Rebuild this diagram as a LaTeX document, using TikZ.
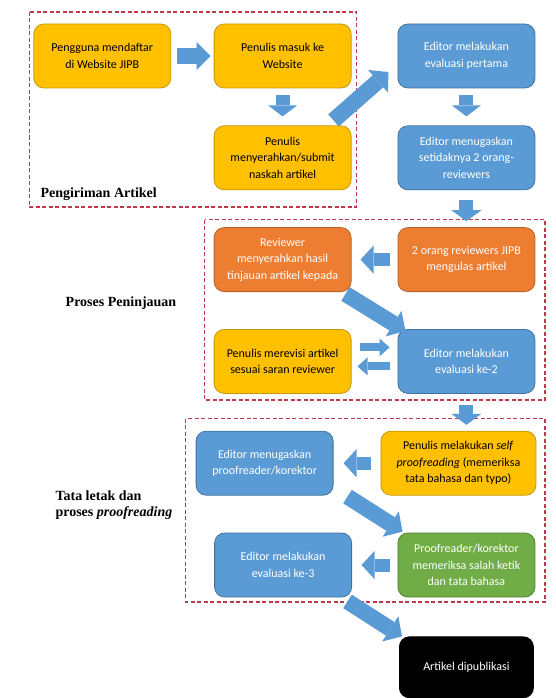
\documentclass[tikz,border=0pt]{standalone}
\usepackage{fontspec}
\setmainfont{Carlito}
\newfontfamily\lblfont{Liberation Serif}
\usetikzlibrary{positioning}
\usetikzlibrary{arrows.meta}
\definecolor{kuning}{HTML}{FFC000}
\definecolor{kuningtua}{HTML}{C9980A}
\definecolor{biru}{HTML}{5B9BD5}
\definecolor{birutua}{HTML}{41719C}
\definecolor{oranye}{HTML}{ED7D31}
\definecolor{oranyetua}{HTML}{B8612A}
\definecolor{hijau}{HTML}{70AD47}
\definecolor{hijautua}{HTML}{507E32}
\definecolor{merah}{HTML}{C0394B}
\tikzset{
    kotak/.style={rectangle, rounded corners=10pt, minimum width=137pt,
                  minimum height=64pt, align=center, inner sep=2pt,
                  line width=0.8pt, font=\fontsize{12}{16.5}\selectfont},
    ybox/.style={kotak, fill=kuning, draw=kuningtua, text=black},
    bbox/.style={kotak, fill=biru, draw=birutua, text=white},
    obox/.style={kotak, fill=oranye, draw=oranyetua, text=white},
    gbox/.style={kotak, fill=hijau, draw=hijautua, text=white},
    kbox/.style={kotak, fill=black, draw=black, text=white},
    grup/.style={draw=merah, dash pattern=on 4pt off 2.5pt, line width=1.2pt},
    stage/.style={font=\lblfont\fontsize{14}{16.5}\selectfont\bfseries, align=left},
    blok/.style n args={3}{draw=biru, line width=#1,
                  -{Triangle[width=#2,length=#3,line width=0pt]}},
    }

\begin{document}
\begin{tikzpicture}[x=1pt,y=-1pt,node distance=37pt]
    \fill[white] (0,0) rectangle (555,698);
    \useasboundingbox (0,0) rectangle (555,698);

    % pengiriman
    \node[ybox] (daftar) at (102.3,56) {Pengguna mendaftar\\di Website JIPB};
    \node[ybox] (masuk) [right=42.5pt of daftar] {Penulis masuk ke\\Website};
    \node[ybox] (submit) [below=of masuk] {Penulis\\menyerahkan/submit\\naskah artikel};
    \node[bbox] (eval1) [right=46pt of masuk] {Editor melakukan\\evaluasi pertama};
    \node[bbox] (tugas) [below=of eval1] {Editor menugaskan\\setidaknya 2 orang-\\reviewers};

    % peninjauan
    \node[obox] (ulas) [below=of tugas] {2 orang reviewers JIPB\\mengulas artikel};
    \node[obox] (tinjau) [left=46pt of ulas] {Reviewer\\menyerahkan hasil\\tinjauan artikel kepada};
    \node[bbox] (eval2) [below=of ulas] {Editor melakukan\\evaluasi ke-2};
    \node[ybox] (revisi) [left=46pt of eval2] {Penulis merevisi artikel\\sesuai saran reviewer};

    % proofreading
    \node[ybox, minimum width=155pt, xshift=-8pt] (self) [below=of eval2]
        {Penulis melakukan \textit{self}\\\textit{proofreading} (memeriksa\\tata bahasa dan typo)};
    \node[bbox] (tugaspr) [left=47pt of self] {Editor menugaskan\\proofreader/korektor};
    \node[gbox, xshift=8pt] (korektor) [below=of self] {Proofreader/korektor\\memeriksa salah ketik\\dan tata bahasa};
    \node[bbox] (eval3) [left=45.5pt of korektor] {Editor melakukan\\evaluasi ke-3};
    \node[kbox, minimum width=134pt, minimum height=61pt] (terbit) [below=39pt of korektor] {Artikel dipublikasi};

    % kelompok
    \draw[grup] (29.4,12) rectangle (356.8,207);
    \draw[grup] (204.6,219.5) rectangle (545,400);
    \draw[grup] (185.8,418.5) rectangle (545,602);
    \node[stage, anchor=west] (lbl1) at (37,194) {Pengiriman Artikel};
    \node[stage] (lbl2) at (121,303) {Proses Peninjauan};
    \node[stage, anchor=west] (lbl3) at (52,505) {Tata letak dan\\proses \textit{proofreading}};

    % panah
    \draw[blok={16pt}{28pt}{14pt}, shorten <=5.5pt, shorten >=3pt] (daftar) -- (masuk);
    \draw[blok={14pt}{29pt}{11pt}, shorten <=7pt, shorten >=9pt] (masuk) -- (submit);
    \draw[blok={16pt}{30pt}{14pt}] ([xshift=-18pt,yshift=5pt]submit.north east) -- ([xshift=-9pt,yshift=-16pt]eval1.west);
    \draw[blok={14pt}{29pt}{11pt}, shorten <=7pt, shorten >=9pt] (eval1) -- (tugas);
    \draw[blok={14pt}{30pt}{11pt}, shorten <=10pt, shorten >=6pt] (tugas) -- (ulas);
    \draw[blok={13pt}{28pt}{13pt}, shorten <=8pt, shorten >=9pt] (ulas) -- (tinjau);
    \draw[blok={16pt}{30pt}{14pt}] ([xshift=-6pt,yshift=-2pt]tinjau.south east) -- ([xshift=8pt,yshift=-2pt]eval2.north west);
    \draw[blok={8pt}{18pt}{10pt}, shorten <=8.5pt, shorten >=8pt] ([yshift=14pt]revisi.east) -- ([yshift=14pt]eval2.west);
    \draw[blok={8pt}{18pt}{10pt}, shorten <=8pt, shorten >=6pt] ([yshift=-5pt]eval2.west) -- ([yshift=-5pt]revisi.east);
    \draw[blok={14pt}{30pt}{11pt}, shorten <=11pt, shorten >=6pt] (eval2) -- (eval2 |- self.north);
    \draw[blok={13pt}{28pt}{13pt}, shorten <=9.5pt, shorten >=10pt] (self) -- (tugaspr);
    \draw[blok={16pt}{30pt}{14pt}] ([xshift=14pt,yshift=-1pt]tugaspr.south east) -- ([xshift=5pt,yshift=1pt]korektor.north west);
    \draw[blok={13pt}{28pt}{13pt}, shorten <=8pt, shorten >=9.5pt] (korektor) -- (eval3);
    \draw[blok={16pt}{30pt}{14pt}] ([xshift=-4.5pt,yshift=-4pt]eval3.south east) -- ([xshift=3pt]terbit.north west);
\end{tikzpicture}
\end{document}
